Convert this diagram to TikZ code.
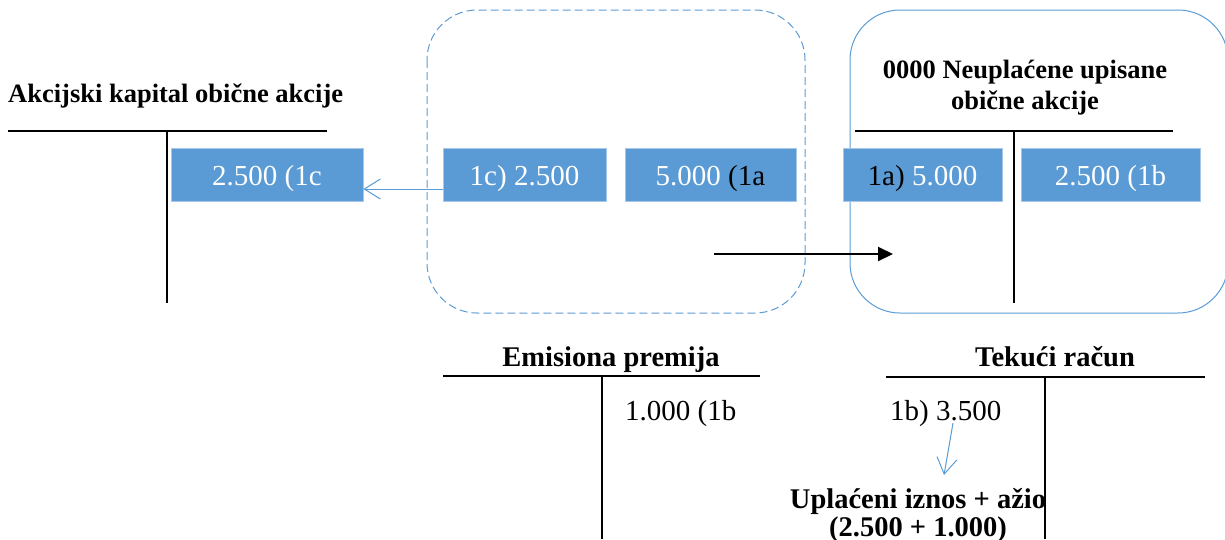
\documentclass[tikz,border=0pt]{standalone}
\usepackage{fontspec}
\setmainfont{Liberation Serif}
\usetikzlibrary{arrows.meta}

\definecolor{plava}{RGB}{91,155,213}
\newcommand{\naslov}{\fontsize{26.5}{31}\selectfont\bfseries}
\newcommand{\veci}{\fontsize{28.5}{28}\selectfont\bfseries}
\newcommand{\broj}{\fontsize{29}{33}\selectfont}

\begin{document}
\begin{tikzpicture}[x=1pt, y=-1pt,
    iznos/.style={fill=plava, draw=plava!55!white, line width=0.8pt,
      minimum height=53pt, inner sep=0pt, text height=21pt, text depth=0pt,
      text=white, font=\broj},
    konto/.style={line width=2pt, draw=black},
    okvir/.style={draw=plava, line width=1pt, rounded corners=50pt},
    veza/.style={draw=plava, line width=1pt,
      -{Straight Barb[length=16pt, width=20pt]}},
    tekst/.style={inner sep=0pt}]

  \useasboundingbox (0,0) rectangle (1225,539);
  \clip (0,0) rectangle (1225,539);

  % Okviri oko knjizenja
  \draw [okvir, dash pattern=on 8pt off 4pt] (427,10) rectangle (805,313);
  \draw [okvir] (850,10) rectangle (1228,313);

  % T-konta
  \draw [konto] (8,131) -- (327,131) (167,131) -- (167,303);
  \draw [konto] (855,131) -- (1173,131) (1014,131) -- (1014,303);
  \draw [konto] (443,376) -- (760,376) (602,376) -- (602,539);
  \draw [konto] (886,377) -- (1205,377) (1045,377) -- (1045,539);

  % Nazivi konta
  \node [tekst, anchor=base west, font=\naslov] (akc) at (8,102)
    {Akcijski kapital obične akcije};
  \node [tekst, font=\naslov, align=center] (neu) at (1025,88)
    {0000 Neuplaćene upisane\\obične akcije};
  \node [tekst, anchor=base, font=\veci] (emi) at (611,366) {Emisiona premija};
  \node [tekst, anchor=base, font=\veci] (tek) at (1055,366) {Tekući račun};

  % Iznosi
  \node [iznos, minimum width=192pt] (k1c) at (267,174.5) {2.500 (1c};
  \node [iznos, minimum width=163pt] (b1c) at (524.5,174.5) {1c) 2.500};
  \node [iznos, minimum width=171pt] (b1a) at (710.5,174.5)
    {5.000 \textcolor{black}{(1a}};
  \node [iznos, minimum width=159pt] (n1a) at (922.5,174.5)
    {\textcolor{black}{1a)} 5.000};
  \node [iznos, minimum width=179pt] (n1b) at (1110.5,174.5) {2.500 (1b};
  \node [tekst, anchor=base west, font=\broj] (p1b) at (625,420) {1.000 (1b};
  \node [tekst, anchor=base west, font=\broj] (t1b) at (890,420) {1b) 3.500};
  \node [tekst, font=\veci, align=center] (upl) at (918,515)
    {Uplaćeni iznos + ažio\\(2.500 + 1.000)};

  % Strelice
  \coordinate (p1) at (714,254);
  \coordinate (p2) at (893,254);
  \coordinate (s1) at (953,423);
  \coordinate (s2) at (944,475);
  \draw [veza] ([yshift=-14.5pt]b1c.west) -- ([yshift=-14.5pt]k1c.east);
  \draw [konto, -{Triangle[length=15pt, width=14pt]}] (p1) -- (p2);
  \draw [veza] (s1) -- (s2);
\end{tikzpicture}
\end{document}
